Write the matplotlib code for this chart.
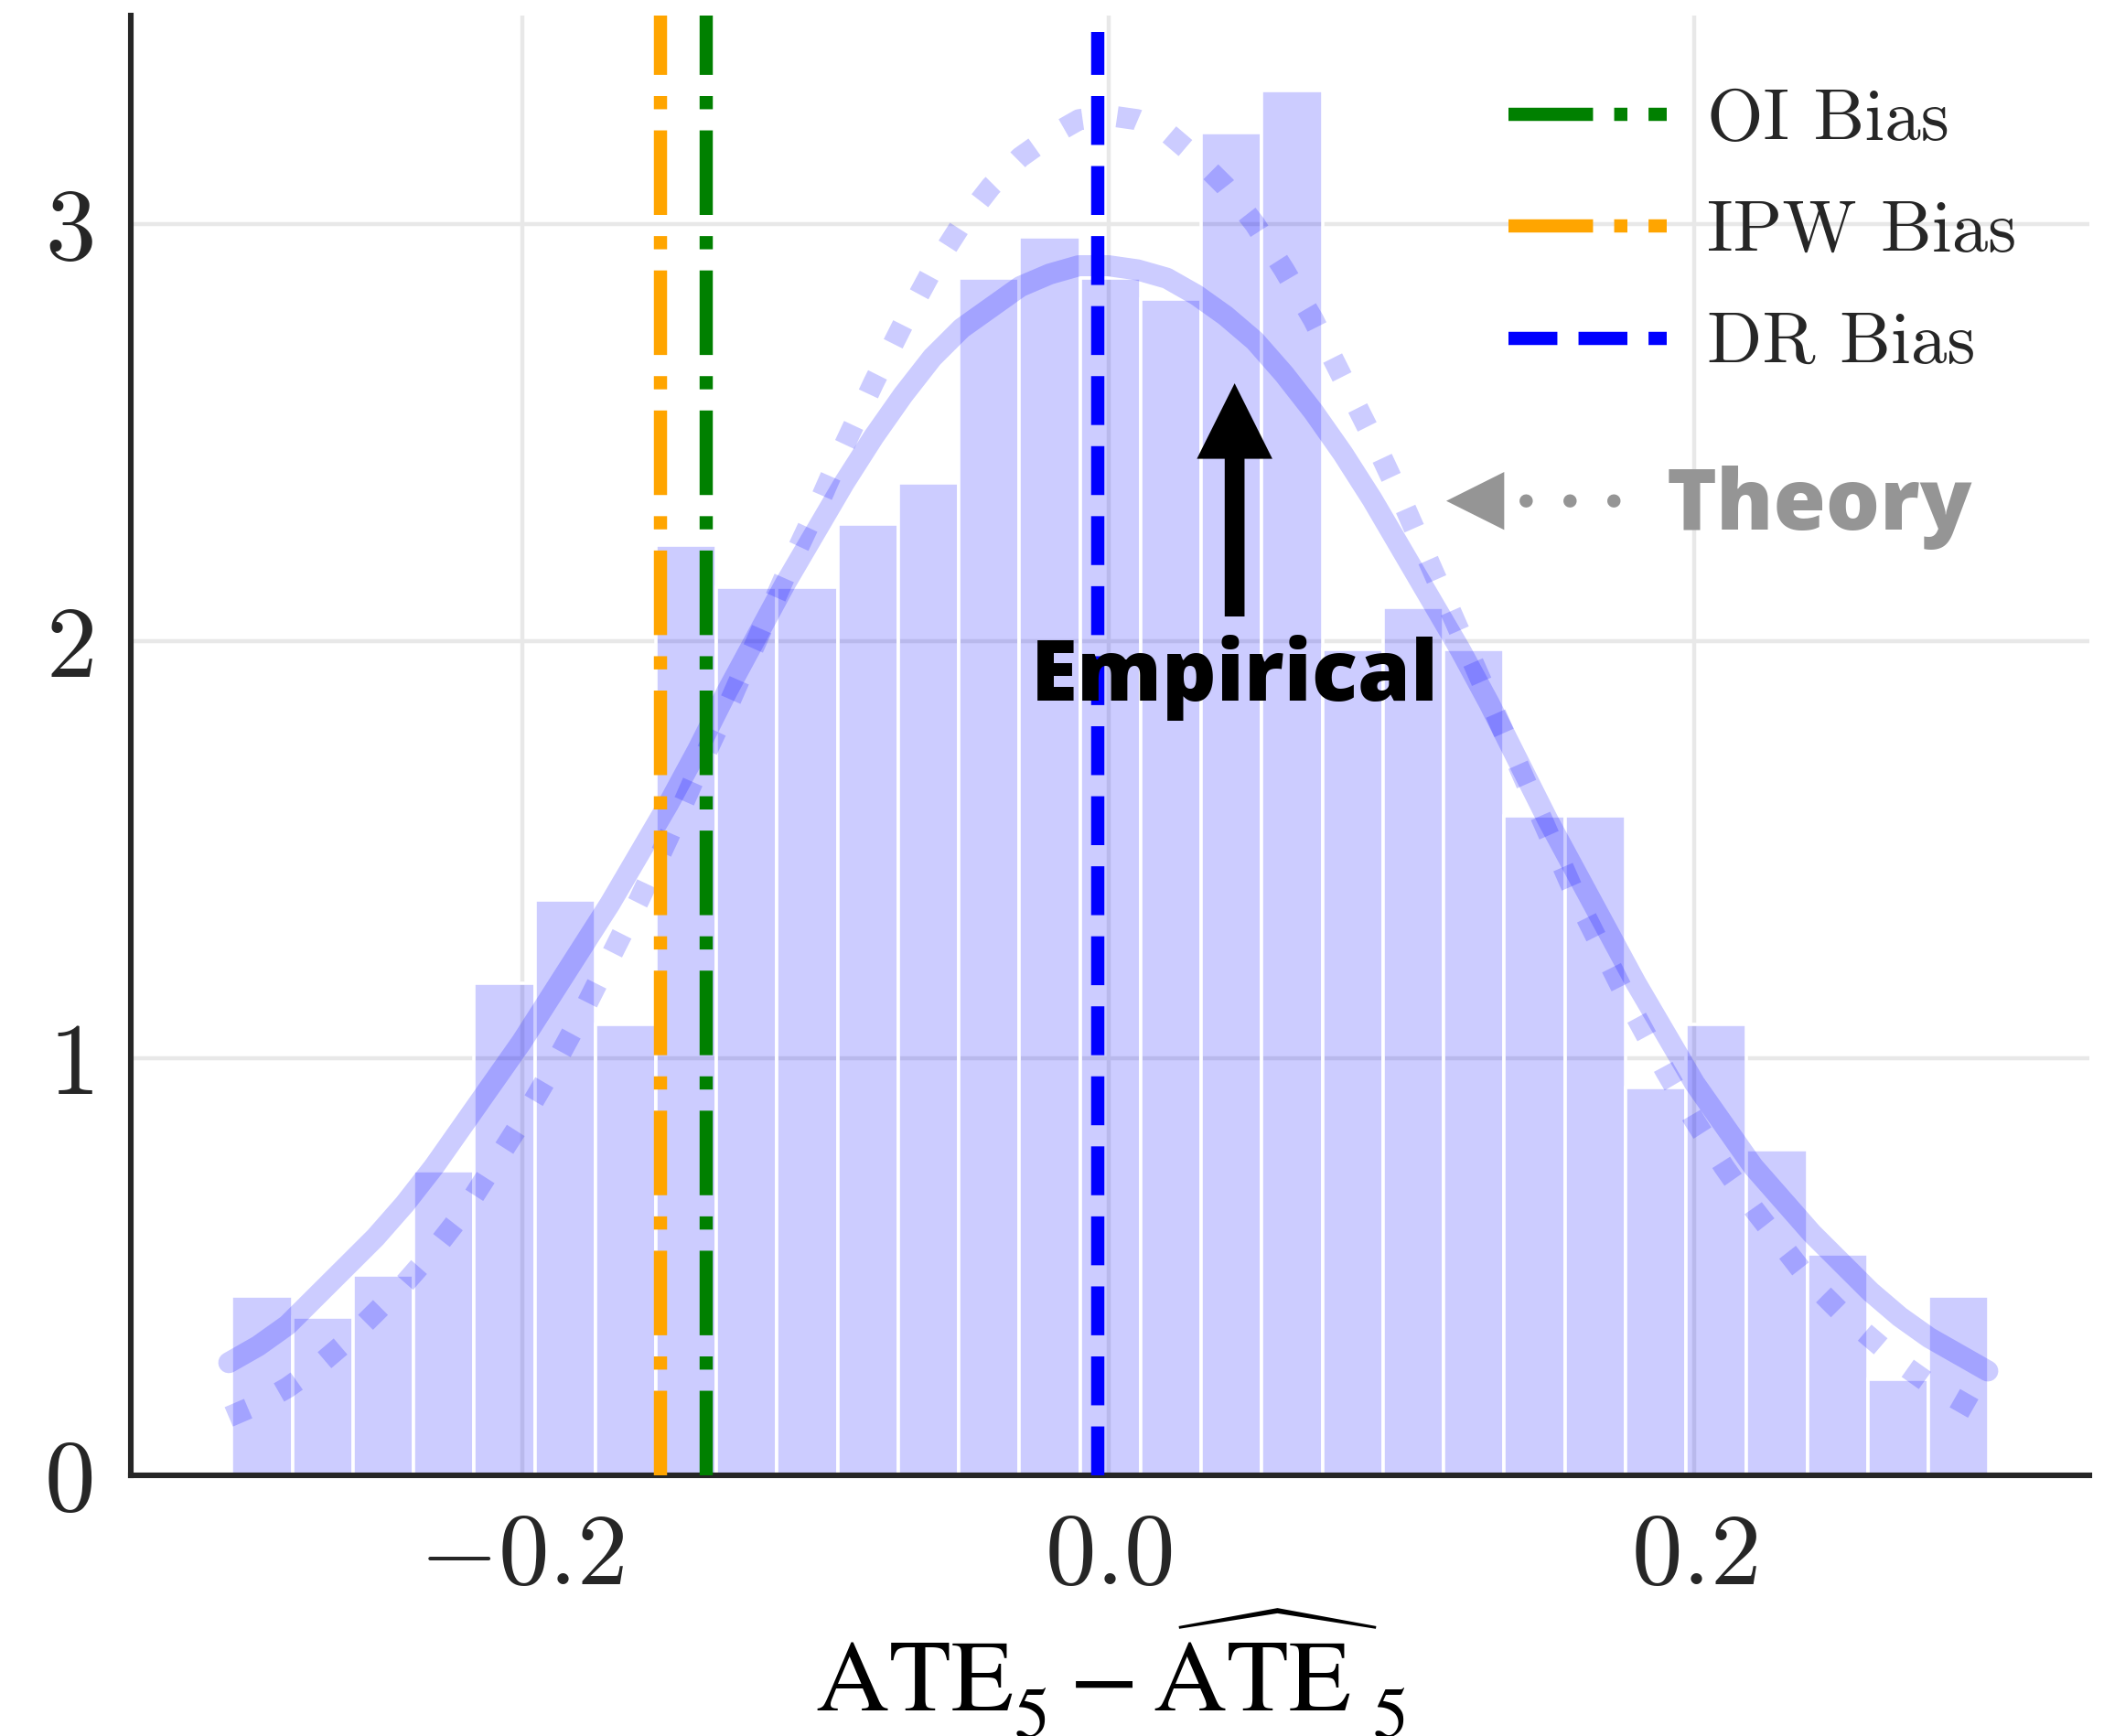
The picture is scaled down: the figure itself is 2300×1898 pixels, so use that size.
import matplotlib
matplotlib.use("Agg")
import matplotlib.pyplot as plt
import numpy as np

plt.rcParams["font.family"] = "serif"
plt.rcParams["font.serif"] = ["cmr10", "DejaVu Serif"]
plt.rcParams["mathtext.fontset"] = "cm"
plt.rcParams["axes.formatter.use_mathtext"] = True
plt.rcParams["axes.unicode_minus"] = True

# ---- data ----
BIN_START = -0.2990
BIN_WIDTH = 0.02067
density = [0.43, 0.38, 0.48, 0.73, 1.18, 1.38, 1.08, 2.23, 2.13, 2.13,
           2.28, 2.38, 2.87, 2.97, 2.87, 2.82, 3.22, 3.32, 1.98, 2.08,
           1.98, 1.58, 1.58, 0.93, 1.08, 0.78, 0.53, 0.23, 0.43]

curve_x = [-0.30, -0.29, -0.28, -0.27, -0.26, -0.25, -0.24, -0.23, -0.22, -0.21,
           -0.20, -0.19, -0.18, -0.17, -0.16, -0.15, -0.14, -0.13, -0.12, -0.11,
           -0.10, -0.09, -0.08, -0.07, -0.06, -0.05, -0.04, -0.03, -0.02, -0.01,
           0.00, 0.01, 0.02, 0.03, 0.04, 0.05, 0.06, 0.07, 0.08, 0.09,
           0.10, 0.11, 0.12, 0.13, 0.14, 0.15, 0.16, 0.17, 0.18, 0.19,
           0.20, 0.21, 0.22, 0.23, 0.24, 0.25, 0.26, 0.27, 0.28, 0.29, 0.30]
empirical_y = [0.27, 0.31, 0.36, 0.43, 0.50, 0.57, 0.65, 0.74, 0.84, 0.94,
               1.04, 1.15, 1.26, 1.37, 1.49, 1.61, 1.74, 1.88, 2.01, 2.14,
               2.26, 2.38, 2.49, 2.59, 2.68, 2.75, 2.80, 2.85, 2.88, 2.90,
               2.90, 2.89, 2.87, 2.83, 2.78, 2.72, 2.64, 2.55, 2.45, 2.34,
               2.22, 2.10, 1.98, 1.85, 1.71, 1.57, 1.44, 1.31, 1.18, 1.06,
               0.94, 0.84, 0.74, 0.66, 0.58, 0.51, 0.44, 0.38, 0.33, 0.29, 0.25]
theory_y = [0.14, 0.17, 0.21, 0.26, 0.32, 0.39, 0.46, 0.54, 0.63, 0.74,
            0.85, 0.97, 1.10, 1.24, 1.38, 1.53, 1.69, 1.84, 2.00, 2.16,
            2.31, 2.47, 2.62, 2.76, 2.89, 3.00, 3.09, 3.16, 3.21, 3.25,
            3.26, 3.25, 3.22, 3.16, 3.09, 3.00, 2.89, 2.77, 2.63, 2.49,
            2.34, 2.18, 2.02, 1.86, 1.70, 1.54, 1.38, 1.24, 1.10, 0.97,
            0.85, 0.74, 0.64, 0.55, 0.46, 0.39, 0.33, 0.27, 0.22, 0.18, 0.14]

oi_bias = -0.1371
ipw_bias = -0.1526
dr_bias = -0.0036
DR_TOP = 3.46

XLIM = (-0.3334, 0.3347)
YLIM = (0.0, 3.5)

LIGHT = (0.0, 0.0, 1.0, 0.2)
GRAY = "#959595"
INK = "#262626"
ANNOT_FONT = ["Open Sans", "Lato", "DejaVu Sans"]

edges = BIN_START + BIN_WIDTH * np.arange(len(density) + 1)

fig = plt.figure(figsize=(11.5, 9.49), dpi=200)
ax = fig.add_axes([0.0622, 0.1502, 0.9309, 0.8409])

ax.bar(edges[:-1], density, width=BIN_WIDTH, align="edge",
       facecolor=LIGHT, edgecolor="white", linewidth=1.3, zorder=2)

ax.plot(curve_x, empirical_y, color=LIGHT, lw=8.3, solid_capstyle="round", zorder=3)
ax.plot(curve_x, theory_y, color=LIGHT, lw=8.3, ls=":", zorder=3)

ax.axvline(oi_bias, color="green", lw=5.2, ls="-.", label="OI Bias", zorder=4)
ax.axvline(ipw_bias, color="orange", lw=5.2, ls="-.", label="IPW Bias", zorder=4)
ax.axvline(dr_bias, ymax=DR_TOP / YLIM[1], color="blue", lw=5.2, ls="--",
           label="DR Bias", zorder=4)

# Empirical annotation
ax.annotate("", xy=(0.0431, 2.618), xytext=(0.0431, 2.059),
            arrowprops=dict(facecolor="black", edgecolor="none", width=7.8,
                            headwidth=29.7, headlength=29.7, shrink=0), zorder=5)
ax.text(0.0431, 1.857, "Empirical", ha="center", va="baseline",
        family=ANNOT_FONT, fontweight="heavy", fontsize=33.5, color="black", zorder=5)

# Theory annotation
ax.annotate("", xy=(0.1153, 2.336), xytext=(0.1350, 2.336),
            arrowprops=dict(arrowstyle="-|>,head_length=22.8,head_width=11.4",
                            mutation_scale=1, facecolor=GRAY, edgecolor="none",
                            lw=0, shrinkA=0, shrinkB=0), zorder=5)
ax.annotate("", xy=(0.1330, 2.336), xytext=(0.1725, 2.336),
            arrowprops=dict(arrowstyle="-", color=GRAY, lw=5.2,
                            linestyle=(0, (0.01, 3.31)), capstyle="round",
                            shrinkA=0, shrinkB=0), zorder=5)
ax.text(0.1904, 2.268, "Theory", ha="left", va="baseline",
        family=ANNOT_FONT, fontweight="heavy", fontsize=33.5, color=GRAY, zorder=5)

ax.set_xlim(*XLIM)
ax.set_ylim(*YLIM)
ax.set_xticks([-0.2, 0.0, 0.2])
ax.set_yticks([0, 1, 2, 3])
ax.tick_params(length=0, pad=15, labelsize=40, labelcolor=INK)
ax.grid(color="#e8e8e8", lw=1.6)
ax.set_axisbelow(True)
for s in ["top", "right"]:
    ax.spines[s].set_visible(False)
for s in ["left", "bottom"]:
    ax.spines[s].set_linewidth(2.2)
    ax.spines[s].set_color(INK)

ax.set_xlabel(r"$\mathrm{ATE}_5^{\,} - \widehat{\mathrm{ATE}}\;{}_5^{\,}$", fontsize=40,
              color="black", math_fontfamily="stix", labelpad=1)

leg = ax.legend(loc="upper right", frameon=False, fontsize=28.5, handlelength=2.19,
                handletextpad=0.55, labelspacing=0.64, borderaxespad=0.61)
for t in leg.get_texts():
    t.set_color(INK)

fig.savefig("out.png", dpi=200)
